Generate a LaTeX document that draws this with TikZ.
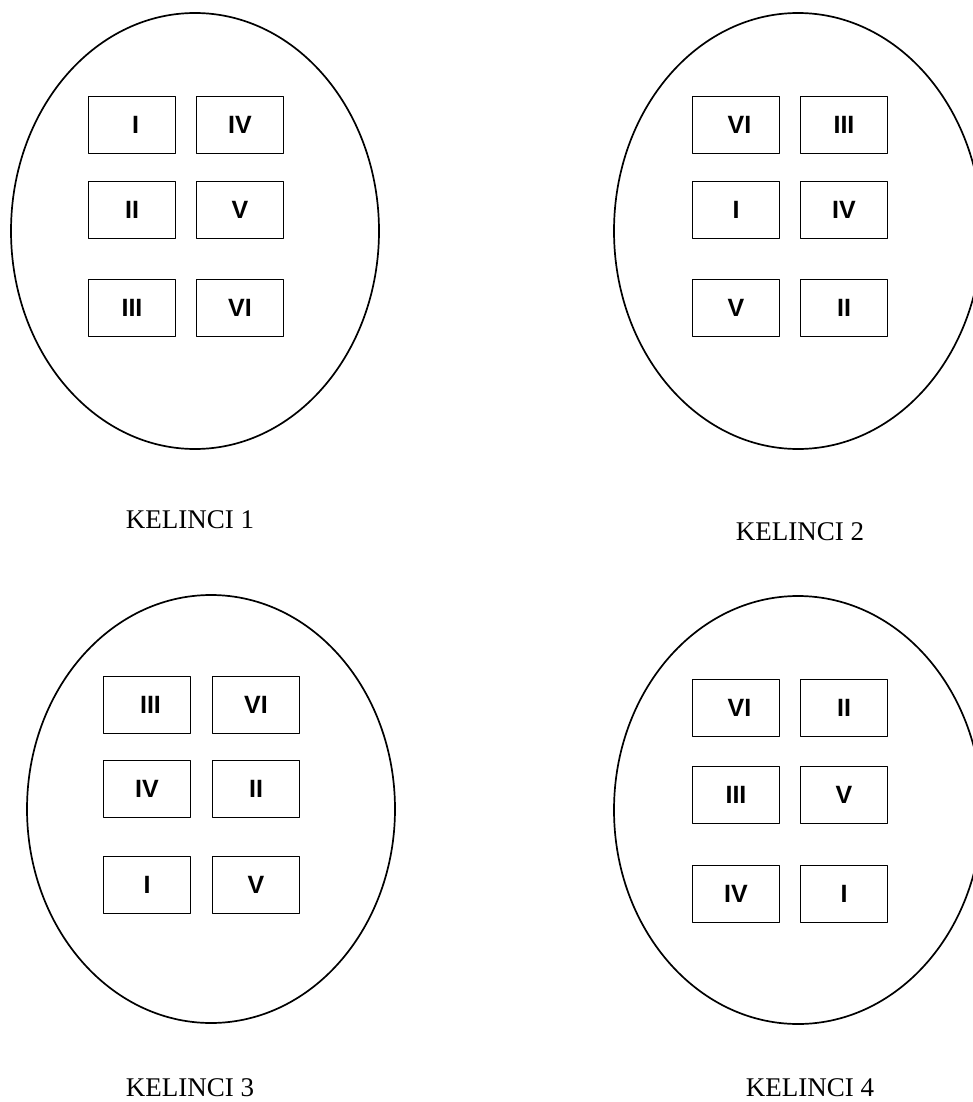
\documentclass[tikz,border=0pt]{standalone}
\usepackage{fontspec}
\setmainfont{Liberation Serif}
\setsansfont{Liberation Sans}
\usetikzlibrary{shapes.geometric}

\begin{document}
\begin{tikzpicture}[
  x=1pt,y=-1pt,
  line join=round,
  cage/.style={draw=black,ellipse,line width=1.7pt,minimum width=368pt,minimum height=436pt,inner sep=0pt},
  spot/.style={draw=black,line width=1.8pt,minimum width=87pt,minimum height=57pt,inner sep=0pt,
    font=\sffamily\bfseries\fontsize{25}{25}\selectfont},
  caption/.style={font=\fontsize{27}{27}\selectfont}
]
\clip (0,0) rectangle (973,1102);

% Kelinci 1
\node[cage] (k1) at (195,231) {};
\foreach \x/\y/\t [count=\i] in {132/125/{\ I},240/125/IV,132/210/II,240/210/V,132/308/III,240/308/VI}
  \node[spot] (k1s\i) at (\x,\y) {\t};
\node[caption] (k1lbl) at (190,520) {KELINCI 1};

% Kelinci 2 (runs past the right edge)
\node[cage] (k2) at (798,231) {};
\foreach \x/\y/\t [count=\i] in {736/125/{\ VI},844/125/III,736/210/I,844/210/IV,736/308/V,844/308/II}
  \node[spot] (k2s\i) at (\x,\y) {\t};
\node[caption] (k2lbl) at (800,532) {KELINCI 2};

% Kelinci 3
\node[cage,minimum height=428pt] (k3) at (211,809) {};
\foreach \x/\y/\t [count=\i] in {147/705/{\ III},256/705/VI,147/789/IV,256/789/II,147/885/I,256/885/V}
  \node[spot] (k3s\i) at (\x,\y) {\t};
\node[caption] (k3lbl) at (190,1088) {KELINCI 3};

% Kelinci 4
\node[cage,minimum height=428pt] (k4) at (798,810) {};
\foreach \x/\y/\t [count=\i] in {736/708/{\ VI},844/708/II,736/795/III,844/795/V,736/894/IV,844/894/I}
  \node[spot] (k4s\i) at (\x,\y) {\t};
\node[caption] (k4lbl) at (810,1088) {KELINCI 4};

\end{tikzpicture}
\end{document}
